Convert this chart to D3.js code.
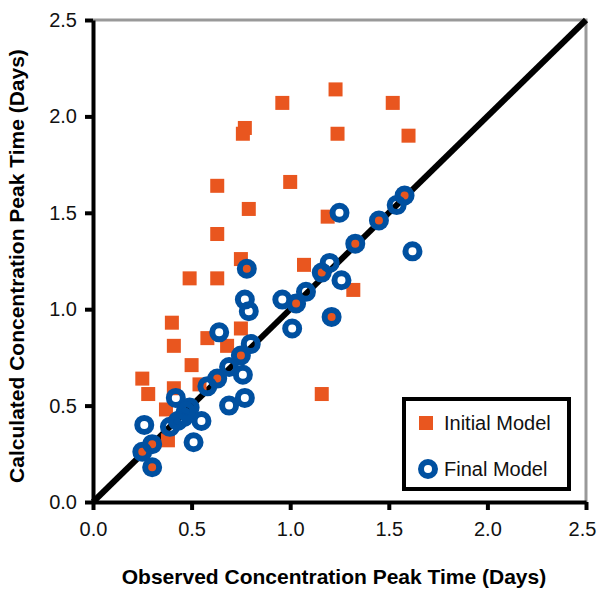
<!DOCTYPE html>
<html>
<head>
<meta charset="utf-8">
<script src="https://cdn.jsdelivr.net/npm/d3@7"></script>
<style>
  body{margin:0;background:#fff;}
  text{font-family:"Liberation Sans",Arial,sans-serif;}
</style>
</head>
<body>
<svg id="chart" width="598" height="590"></svg>
<script>
// Initial Model (squares)
const initialX=[0.96,1.23,1.52,1.24,1.60,0.77,0.76,1.00,0.63,0.79,0.63,0.75,1.07,1.19,0.49,0.63,0.40,0.41,0.50,0.25,0.28,0.75,0.58,0.68,0.54,0.37,0.38,1.16,1.32,0.41,
  1.58,1.45,1.33,1.16,1.21,0.78,1.03,0.75,0.63,0.30,0.25,0.30];
const initialY=[2.07,2.14,2.07,1.91,1.90,1.94,1.91,1.66,1.64,1.52,1.39,1.26,1.23,1.48,1.16,1.16,0.93,0.81,0.71,0.64,0.56,0.90,0.85,0.81,0.61,0.48,0.32,0.56,1.10,0.59,
  1.59,1.46,1.34,1.19,0.96,1.21,1.03,0.76,0.64,0.30,0.26,0.18];
// Final Model (rings)
const finalX=[1.58,1.54,1.45,1.33,1.25,1.62,1.20,1.16,1.26,1.21,0.78,0.77,0.79,0.96,1.03,1.08,1.01,0.64,0.80,0.75,0.69,0.76,0.63,0.58,0.77,0.69,
  0.42,0.49,0.39,0.55,0.51,0.26,0.30,0.25,0.30,0.46,0.43,0.47];
const finalY=[1.59,1.54,1.46,1.34,1.50,1.30,1.24,1.19,1.15,0.96,1.21,1.05,0.99,1.05,1.03,1.09,0.90,0.88,0.82,0.76,0.70,0.66,0.64,0.60,0.54,0.50,
  0.54,0.49,0.39,0.42,0.31,0.40,0.30,0.26,0.18,0.44,0.42,0.47];
const ticks=[0,0.5,1.0,1.5,2.0,2.5];

const svg=d3.select("#chart");
const x=d3.scaleLinear().domain([0,2.5]).range([93,586]);
const y=d3.scaleLinear().domain([0,2.5]).range([502,20]);
const orange="#E9561F", blue="#0050A0";

// frame: top & right grey
svg.append("path")
  .attr("d",`M${x(0)},${y(2.5)}H${x(2.5)}V${y(0)}`)
  .attr("fill","none").attr("stroke","#999").attr("stroke-width",3);

// axes
const xAxis=svg.append("g").attr("transform",`translate(0,${y(0)})`)
  .call(d3.axisBottom(x).tickValues(ticks).tickFormat(d3.format(".1f")).tickSize(8).tickSizeOuter(0));
const yAxis=svg.append("g").attr("transform",`translate(${x(0)},0)`)
  .call(d3.axisLeft(y).tickValues(ticks).tickFormat(d3.format(".1f")).tickSize(8).tickSizeOuter(0));
[xAxis,yAxis].forEach(g=>{
  g.select(".domain").attr("stroke","#000").attr("stroke-width",4);
  g.selectAll(".tick line").attr("stroke","#000").attr("stroke-width",4);
  g.selectAll(".tick text").attr("fill","#111").attr("font-size","20px")
    .attr("font-family","Liberation Sans, Arial, sans-serif");
});
xAxis.selectAll(".tick text").attr("dy","1.15em");
xAxis.selectAll(".tick text").filter(d=>d===2.5).attr("x",-4);
yAxis.selectAll(".tick text").attr("x",-16);

// 1:1 line
svg.append("line")
  .attr("x1",x(0)).attr("y1",y(0)).attr("x2",x(2.5)).attr("y2",y(2.5))
  .attr("stroke","#000").attr("stroke-width",6);

const init=d3.range(initialX.length).map(i=>({x:initialX[i],y:initialY[i]}));
const fin=d3.range(finalX.length).map(i=>({x:finalX[i],y:finalY[i]}));

svg.append("g").selectAll("rect").data(init).join("rect")
  .attr("x",d=>x(d.x)-7).attr("y",d=>y(d.y)-7)
  .attr("width",14).attr("height",14).attr("fill",orange);

svg.append("g").selectAll("circle").data(fin).join("circle")
  .attr("cx",d=>x(d.x)).attr("cy",d=>y(d.y)).attr("r",7)
  .attr("fill","none").attr("stroke",blue).attr("stroke-width",6);

// legend
const lg=svg.append("g");
lg.append("rect").attr("x",404).attr("y",399).attr("width",165).attr("height",90)
  .attr("fill","#fff").attr("stroke","#000").attr("stroke-width",4);
lg.append("rect").attr("x",419).attr("y",416).attr("width",14).attr("height",14).attr("fill",orange);
lg.append("circle").attr("cx",428).attr("cy",469).attr("r",7)
  .attr("fill","none").attr("stroke",blue).attr("stroke-width",6);
lg.append("text").attr("x",444).attr("y",430).attr("font-size","20px").attr("fill","#111").text("Initial Model");
lg.append("text").attr("x",444).attr("y",476).attr("font-size","20px").attr("fill","#111").text("Final Model");

// axis titles
svg.append("text").attr("x",334).attr("y",584).attr("text-anchor","middle")
  .attr("font-size","21px").attr("font-weight","bold").text("Observed Concentration Peak Time (Days)");
svg.append("text").attr("transform","translate(24,266) rotate(-90)").attr("text-anchor","middle")
  .attr("font-size","21px").attr("font-weight","bold").text("Calculated Concentration Peak Time (Days)");
</script>
</body>
</html>
